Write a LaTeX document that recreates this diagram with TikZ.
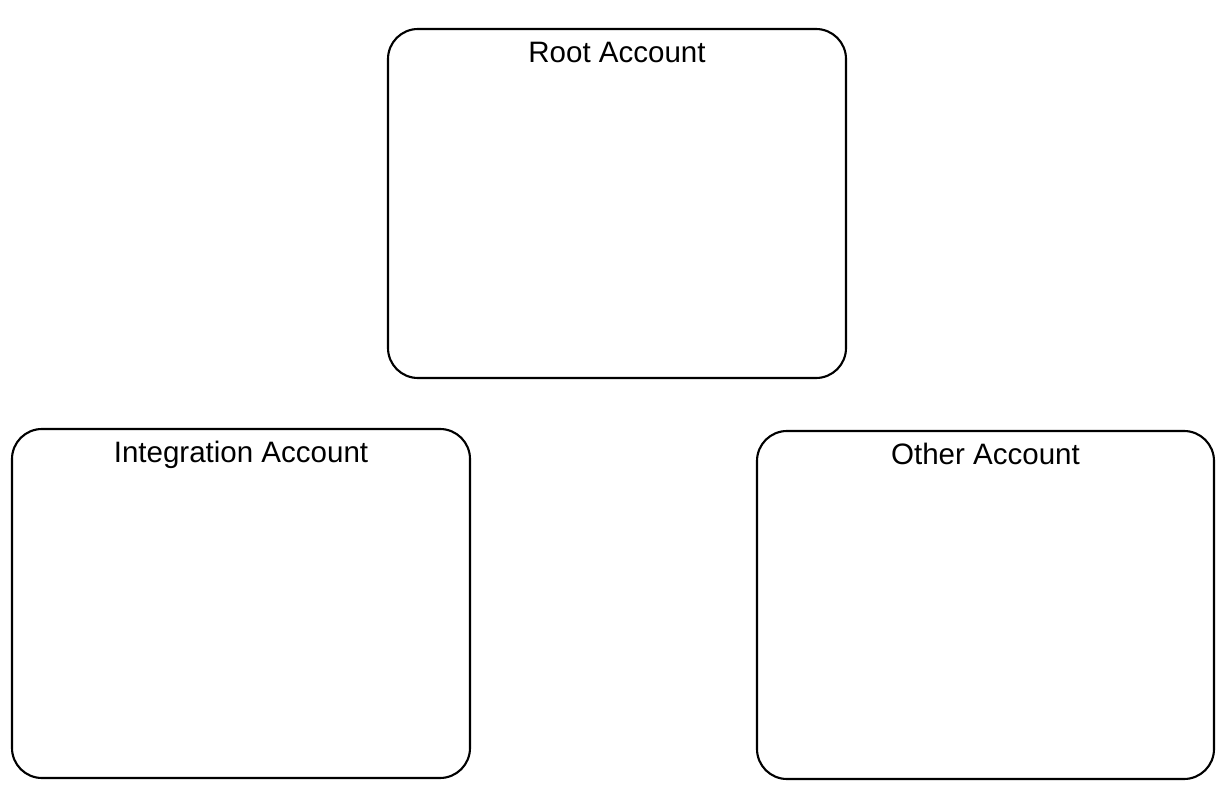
\documentclass[tikz,border=0pt]{standalone}
\usepackage{fontspec}
\setmainfont{Liberation Sans}
\usepackage{tikz}
\usetikzlibrary{positioning}
\tikzset{
    account/.style={draw, rounded corners=0.6cm, line width=1.2pt, minimum width=9.16cm, minimum height=6.98cm},
    title/.style={inner sep=0pt, font=\fontsize{16.8}{20}\selectfont}
}
\begin{document}
\begin{tikzpicture}
    \useasboundingbox (0,0) rectangle (24.5,-15.74);
    % Nodes
    \node[account] (root) at (12.34,-4.07) {};
    \node[account] (integ) at (4.82,-12.07) {};
    \node[account, minimum width=9.14cm, minimum height=6.96cm] (other) at (19.71,-12.10) {};

    % titles
    \node[title, below=0.28cm of root.north] (roott) {Root Account};
    \node[title, below=0.26cm of integ.north] (integt) {Integration Account};
    \node[title, below=0.26cm of other.north] (othert) {Other Account};
\end{tikzpicture}
\end{document}
